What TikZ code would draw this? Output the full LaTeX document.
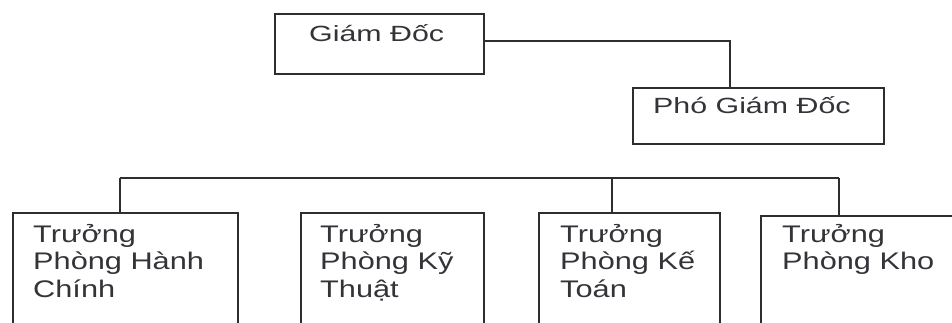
\documentclass[tikz,border=0pt]{standalone}
\usepackage{fontspec}
\setmainfont{Liberation Sans}
\newfontfamily\topfont{Liberation Sans}[FakeStretch=1.38]
\newfontfamily\botfont{Liberation Sans}[FakeStretch=1.28]
\usetikzlibrary{calc}
\definecolor{ink}{HTML}{2E2E2E}
\definecolor{txt}{HTML}{333338}
\newcommand{\lines}[1]{\vtop{\baselineskip=27.5pt #1}}
\tikzset{
  box/.style={draw=ink, line width=1.8pt, rectangle, inner sep=0pt, anchor=north west},
  toptext/.style={anchor=base west, inner sep=0pt, text=txt, font=\topfont\fontsize{22}{26}\selectfont},
  bottext/.style={anchor=base west, inner sep=0pt, text=txt, font=\botfont\fontsize{24}{27.5}\selectfont},
  conn/.style={draw=ink, line width=1.8pt}
}
\begin{document}
\begin{tikzpicture}[x=1pt,y=-1pt]
\useasboundingbox (0,0) rectangle (952,322);
\fill[white] (0,0) rectangle (952,322);
\clip (0,0) rectangle (952,322);
% boxes
\node[box, minimum width=209pt, minimum height=60pt] (gd) at (274,13) {};
\node[box, minimum width=251pt, minimum height=56pt] (pgd) at (632,87) {};
\node[box, minimum width=225pt, minimum height=140pt] (b1) at (12,212) {};
\node[box, minimum width=183pt, minimum height=140pt] (b2) at (300,212) {};
\node[box, minimum width=181pt, minimum height=140pt] (b3) at (538,212) {};
\node[box, minimum width=240pt, minimum height=140pt] (b4) at (760,215) {};
% texts
\node[toptext] (gdt) at (309,41) {Giám Đốc};
\node[toptext] (pgdt) at (653,113) {Phó Giám Đốc};
\node[bottext] (b1t) at (33,242) {\lines{\hbox{Trưởng}\hbox{Phòng Hành}\hbox{Chính}}};
\node[bottext] (b2t) at (320,242) {\lines{\hbox{Trưởng}\hbox{Phòng Kỹ}\hbox{Thuật}}};
\node[bottext] (b3t) at (560,242) {\lines{\hbox{Trưởng}\hbox{Phòng Kế}\hbox{Toán}}};
\node[bottext] (b4t) at (782,242) {\lines{\hbox{Trưởng}\hbox{Phòng Kho}}};
% connectors
\coordinate (busL) at (120,178);
\coordinate (busR) at (839,178);
\coordinate (gdr) at ($(gd.north east)+(0,28)$);
\coordinate (pgdx) at ($(pgd.north west)+(98,0)$);
\draw[conn] (gdr) -| (pgdx);
\draw[conn] ($(pgd.south west)+(98,0)$) -- ($(pgd.south west)+(98,0)$ |- busL);
\draw[conn] (busL) -- (busR);
\draw[conn] ($(gd.south west)+(106,0)$) -- ($(gd.south west)+(106,0)$ |- b2.north);
\draw[conn] (busL) -- (busL |- b1.north);
\coordinate (b3c) at ($(b3.north west)+(74,0)$);
\draw[conn] (b3c |- busL) -- (b3c);
\draw[conn] (busR) -- (busR |- b4.north);
\end{tikzpicture}
\end{document}
